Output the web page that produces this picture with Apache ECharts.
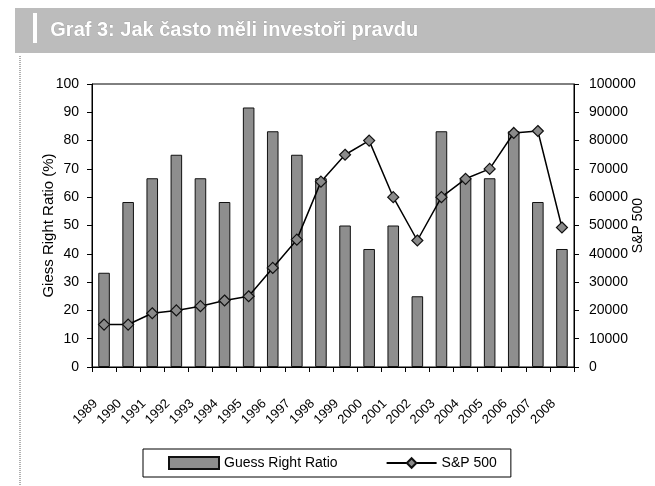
<!DOCTYPE html>
<html>
<head>
<meta charset="utf-8">
<script src="https://cdn.jsdelivr.net/npm/echarts@6/dist/echarts.min.js"></script>
<style>
html,body{margin:0;padding:0;background:#fff;}
#c{width:655px;height:486px;}
</style>
</head>
<body>
<div id="c"></div>
<script>
var years = ['1989','1990','1991','1992','1993','1994','1995','1996','1997','1998','1999','2000','2001','2002','2003','2004','2005','2006','2007','2008'];
var guessRight = [33.3,58.3,66.7,75,66.7,58.3,91.7,83.3,75,66.7,50,41.7,50,25,83.3,66.7,66.7,83.3,58.3,41.7];
var sp500 = [15000,15000,19000,20000,21500,23500,25000,35000,45000,65500,75000,80000,60000,44700,60000,66500,70000,82700,83400,49300];
var leftTicks = [0,100,10];
var rightTicks = [0,100000,10000];
var titleText = 'Graf 3: Jak často měli investoři pravdu';

var chart = echarts.init(document.getElementById('c'), null, {renderer:'canvas'});
var font = 'Liberation Sans, Arial, sans-serif';
chart.setOption({
  backgroundColor:'#fff',
  animation:false,
  textStyle:{fontFamily:font},
  graphic:[
    {type:'rect', shape:{x:15,y:8,width:640,height:45}, style:{fill:'#bcbcbc'}},
    {type:'rect', shape:{x:33,y:13,width:4,height:30}, style:{fill:'#ffffff'}},
    {type:'text', left:50, top:20, style:{text:titleText, fill:'#ffffff', font:'bold 20px '+font, stroke:'#9a9a9a', lineWidth:0.6}},
    {type:'line', shape:{x1:20,y1:56,x2:20,y2:486}, style:{stroke:'#b0b0b0', lineWidth:2, lineDash:[1,1]}}
  ],
  grid:{left:92, right:81, top:84, bottom:119, show:true, borderColor:'#000', borderWidth:1, containLabel:false, outerBoundsMode:'none'},
  legend:{
    left:143, top:449, width:367, height:27,
    borderColor:'#000', borderWidth:1, padding:[7,14,7,25], itemGap:48,
    itemWidth:50, itemHeight:12,
    textStyle:{fontFamily:font, fontSize:14, color:'#000'},
    data:[{name:'Guess Right Ratio', icon:'rect'}, {name:'S&P 500'}]
  },
  xAxis:{
    type:'category', data:years,
    axisLine:{lineStyle:{color:'#000'}},
    axisTick:{show:true, alignWithLabel:false, length:5, inside:false, lineStyle:{color:'#000'}},
    axisLabel:{rotate:45, fontSize:13, color:'#000', margin:26, padding:[0,12,0,0], interval:0}
  },
  yAxis:[
    {type:'value', min:leftTicks[0], max:leftTicks[1], interval:leftTicks[2],
     name:'Giess Right Ratio (%)', nameLocation:'middle', nameGap:36, nameRotate:90, nameMoveOverlap:false,
     nameTextStyle:{fontSize:15, color:'#000'},
     axisLine:{show:true, lineStyle:{color:'#000'}},
     axisTick:{show:true, length:5, lineStyle:{color:'#000'}},
     axisLabel:{fontSize:14, color:'#000', margin:13},
     splitLine:{show:false}},
    {type:'value', min:rightTicks[0], max:rightTicks[1], interval:rightTicks[2],
     name:'S&P 500', nameLocation:'middle', nameGap:57, nameRotate:90, nameMoveOverlap:false,
     nameTextStyle:{fontSize:14, color:'#000'},
     axisLine:{show:true, lineStyle:{color:'#000'}},
     axisTick:{show:true, length:5, lineStyle:{color:'#000'}},
     axisLabel:{fontSize:14, color:'#000', margin:15, formatter:function(v){return String(v);}},
     splitLine:{show:false}}
  ],
  series:[
    {name:'Guess Right Ratio', type:'bar', data:guessRight, yAxisIndex:0, barWidth:'48%',
     itemStyle:{color:'#8e8e8e', borderColor:'#111', borderWidth:1}},
    {name:'S&P 500', type:'line', data:sp500, yAxisIndex:1,
     symbol:'diamond', symbolSize:11,
     lineStyle:{color:'#000', width:1.5},
     itemStyle:{color:'#8a8a8a', borderColor:'#111', borderWidth:1.2}}
  ]
});
</script>
</body>
</html>
